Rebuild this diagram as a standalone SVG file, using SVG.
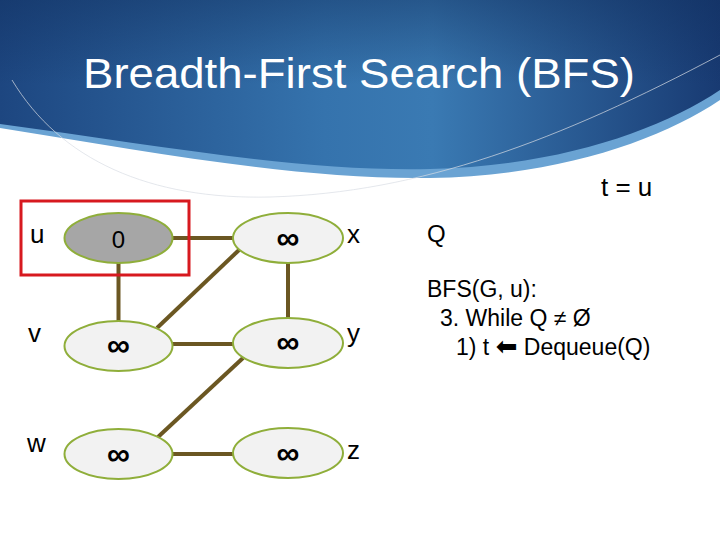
<svg xmlns="http://www.w3.org/2000/svg" width="720" height="540" viewBox="0 0 720 540">
<defs>
<linearGradient id="bg" x1="0" y1="0" x2="1" y2="0">
<stop offset="0" stop-color="#1d4680"/>
<stop offset="0.45" stop-color="#3573ad"/>
<stop offset="0.6" stop-color="#3a7ab3"/>
<stop offset="1" stop-color="#183a72"/>
</linearGradient>
<linearGradient id="vg" x1="0" y1="0" x2="0" y2="1">
<stop offset="0" stop-color="#0f2d5c" stop-opacity="0.45"/>
<stop offset="0.5" stop-color="#0f2d5c" stop-opacity="0"/>
</linearGradient>
<style>
.node{fill:#f2f2f2;stroke:#8fae3a;stroke-width:2}
.start{fill:#a6a6a6;stroke:#8fae3a;stroke-width:2}
.edge{stroke:#6b5722;stroke-width:4;fill:none}
.lbl{font-family:"Liberation Sans",Arial,sans-serif;font-size:26px;fill:#000}
.inf{font-family:"Liberation Sans",Arial,sans-serif;font-size:32px;font-weight:bold;fill:#000;text-anchor:middle}
.txt{font-family:"Liberation Sans",Arial,sans-serif;fill:#000}
</style>
</defs>
<rect width="720" height="540" fill="#ffffff"/>
<g id="header">
<path d="M0 0 H720 V100 C660 140 560 176 430 178 C300 180 150 152 0 128 Z" fill="#6aa3d3"/>
<path d="M0 0 H720 V90 C660 130 560 166 430 169 C300 172 150 144 0 124 Z" fill="url(#bg)"/>
<path d="M0 0 H720 V90 C660 130 560 166 430 169 C300 172 150 144 0 124 Z" fill="url(#vg)"/>
<path d="M12 80 C60 160 150 200 270 197 C420 193 560 140 720 55" fill="none" stroke="#d8dde4" stroke-width="1" opacity="0.7"/>
<text x="359" y="88" text-anchor="middle" font-family="'Liberation Sans',Arial,sans-serif" font-size="42" fill="#ffffff" textLength="552" lengthAdjust="spacingAndGlyphs">Breadth-First Search (BFS)</text>
</g>
<g id="connectors">
<line class="edge" x1="172" y1="238" x2="234" y2="238"/>
<line class="edge" x1="118.5" y1="263" x2="118.5" y2="321"/>
<line class="edge" x1="288" y1="263" x2="288" y2="318"/>
<line class="edge" x1="157" y1="328" x2="239" y2="250"/>
<line class="edge" x1="172" y1="344" x2="234" y2="344"/>
<line class="edge" x1="243" y1="358" x2="158" y2="437"/>
<line class="edge" x1="172" y1="454" x2="234" y2="454"/>
</g>
<g id="node-u">
<ellipse class="start" cx="118.5" cy="238" rx="54" ry="25"/>
<text class="txt" x="118.5" y="248" text-anchor="middle" font-size="24">0</text>
<text class="lbl" x="30" y="243">u</text>
</g>
<g id="node-x">
<ellipse class="node" cx="288" cy="238" rx="55" ry="25"/>
<text class="inf" x="288" y="249">∞</text>
<text class="lbl" x="347" y="243">x</text>
</g>
<g id="node-v">
<ellipse class="node" cx="118.5" cy="346" rx="54" ry="25"/>
<text class="inf" x="118.5" y="356">∞</text>
<text class="lbl" x="28" y="342">v</text>
</g>
<g id="node-y">
<ellipse class="node" cx="288" cy="343" rx="55" ry="25"/>
<text class="inf" x="288" y="353">∞</text>
<text class="lbl" x="347" y="342">y</text>
</g>
<g id="node-w">
<ellipse class="node" cx="118.5" cy="454" rx="54" ry="25"/>
<text class="inf" x="118.5" y="465">∞</text>
<text class="lbl" x="27" y="452">w</text>
</g>
<g id="node-z">
<ellipse class="node" cx="288" cy="453" rx="55" ry="25"/>
<text class="inf" x="288" y="464">∞</text>
<text class="lbl" x="347" y="459">z</text>
</g>
<rect id="highlight" x="21" y="201" width="168" height="74" fill="none" stroke="#d7191f" stroke-width="3"/>
<g id="code">
<text class="txt" x="601" y="196" font-size="26" xml:space="preserve">t = u</text>
<text class="txt" x="427" y="242" font-size="24">Q</text>
<text class="txt" x="427" y="297" font-size="23">BFS(G, u):</text>
<text class="txt" x="440" y="326" font-size="23">3. While Q ≠ Ø</text>
<text class="txt" x="456" y="355" font-size="23">1) t <tspan font-family="'DejaVu Sans',sans-serif" font-size="26">⬅</tspan> Dequeue(Q)</text>
</g>
</svg>
